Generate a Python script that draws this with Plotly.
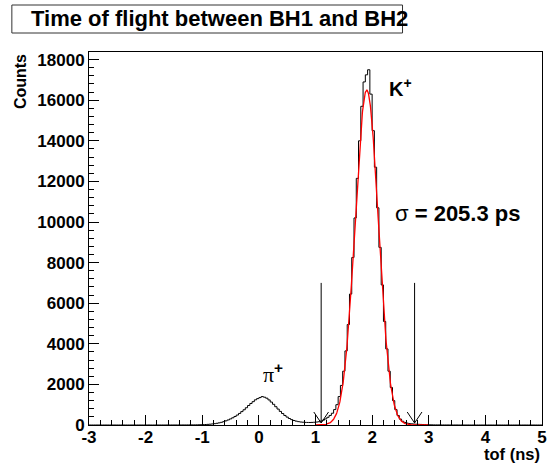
import numpy as np
import plotly.graph_objects as go

# ---- histogram: time of flight BH1 -> BH2, 200 bins of 0.04 ns on [-3, 5] ----
tof_min, tof_max, n_bins = -3.0, 5.0, 200
tof_counts = [
    0, 0, 0, 0, 0, 0, 0, 0, 0, 0,                                   # -3.0 .. -2.6
    0, 0, 0, 0, 0, 0, 0, 0, 0, 0,                                   # -2.6 .. -2.2
    0, 0, 0, 0, 0, 0, 1, 0, 0, 1,                                   # -2.2 .. -1.8
    0, 1, 1, 0, 1, 1, 2, 1, 2, 2,                                   # -1.8 .. -1.4
    2, 3, 3, 4, 5, 6, 7, 9, 11, 14,                                 # -1.4 .. -1.0
    18, 24, 31, 40, 52, 66, 84, 106, 132, 165,                      # -1.0 .. -0.6
    205, 250, 300, 355, 420, 490, 570, 660, 750, 850,               # -0.6 .. -0.2
    960, 1060, 1150, 1240, 1300, 1350, 1400, 1370, 1320, 1235,      # -0.2 .. 0.2
    1130, 1020, 900, 785, 670, 565, 470, 390, 320, 265,             # 0.2 .. 0.6
    220, 190, 165, 148, 138, 130, 126, 124, 128, 135,               # 0.6 .. 1.0
    145, 160, 190, 240, 300, 380, 470, 580, 760, 1000,              # 1.0 .. 1.4
    1400, 1950, 2650, 3650, 4950, 6450, 8250, 10200, 12150, 14000,  # 1.4 .. 1.8
    15700, 16900, 17250, 17500, 16300, 14500, 12700, 10700, 8750, 6900,  # 1.8 .. 2.2
    5100, 3750, 2650, 1850, 1200, 760, 470, 290, 185, 125,          # 2.2 .. 2.6
    92, 72, 58, 48, 40, 34, 28, 22, 17, 13,                         # 2.6 .. 3.0
    10, 8, 6, 5, 4, 3, 3, 2, 2, 1,                                  # 3.0 .. 3.4
    1, 1, 1, 0, 1, 0, 0, 1, 0, 0,                                   # 3.4 .. 3.8
    0, 0, 0, 0, 0, 0, 0, 0, 0, 0,                                   # 3.8 .. 4.2
    0, 0, 0, 0, 0, 0, 0, 0, 0, 0,                                   # 4.2 .. 4.6
    0, 0, 0, 0, 0, 0, 0, 0, 0, 0,                                   # 4.6 .. 5.0
]

# ---- gaussian fit of the kaon peak ----
fit_amplitude = 16500.0      # counts / bin
fit_mean_ns = 1.905
sigma_ps = 205.3
fit_range_ns = [1.0, 3.0]

# ---- selection window (arrows) ----
cut_positions_ns = [1.10, 2.75]
cut_line_top = 7000.0
cut_tip = 100.0

# ---- axis ticks ----
y_tick_values = [0, 2000, 4000, 6000, 8000, 10000, 12000, 14000, 16000, 18000]
y_tick_labels = ["0", "2000", "4000", "6000", "8000", "10000", "12000",
                 "14000", "16000", "18000"]
x_tick_values = [-3, -2, -1, 0, 1, 2, 3, 4, 5]
x_tick_labels = ["-3", "-2", "-1", "0", "1", "2", "3", "4", "5"]

edges = np.linspace(tof_min, tof_max, n_bins + 1)
counts = np.array(tof_counts, dtype=float)
y_max = 1.05 * counts.max()

SANS = "Liberation Sans"
SERIF = "Liberation Serif"

fig = go.Figure()

# histogram outline (step)
fig.add_trace(go.Scatter(
    x=edges, y=np.append(counts, counts[-1]),
    mode="lines", line=dict(color="black", width=1, shape="hv"),
    hoverinfo="skip", showlegend=False,
))

# fitted gaussian
sigma_ns = sigma_ps / 1000.0
xf = np.linspace(fit_range_ns[0], fit_range_ns[1], 400)
yf = fit_amplitude * np.exp(-0.5 * ((xf - fit_mean_ns) / sigma_ns) ** 2)
fig.add_trace(go.Scatter(
    x=xf, y=yf, mode="lines", line=dict(color="red", width=1.3),
    hoverinfo="skip", showlegend=False,
))

# cut arrows: vertical line with an open V head at the bottom
head_dx, head_dy = 0.13, 540.0
for xc in cut_positions_ns:
    fig.add_trace(go.Scatter(
        x=[xc, xc, None, xc - head_dx, xc, xc + head_dx],
        y=[cut_line_top, cut_tip, None, cut_tip + head_dy, cut_tip, cut_tip + head_dy],
        mode="lines", line=dict(color="black", width=1),
        hoverinfo="skip", showlegend=False,
    ))

tick_font = dict(family=SANS, size=17, color="black", weight="bold")

fig.update_xaxes(
    range=[tof_min, tof_max], tickmode="array", tickvals=x_tick_values,
    ticktext=x_tick_labels, ticklabelstandoff=-3,
    ticks="inside", ticklen=10, tickwidth=1, tickcolor="black",
    minor=dict(dtick=0.2, ticks="inside", ticklen=5, tickcolor="black"),
    showgrid=False, zeroline=False, showline=True, linecolor="black",
    linewidth=1, mirror=True, tickfont=tick_font,
)
fig.update_yaxes(
    range=[0, y_max], tickmode="array", tickvals=y_tick_values,
    ticktext=y_tick_labels,
    ticks="inside", ticklen=10, tickwidth=1, tickcolor="black",
    minor=dict(dtick=400, ticks="inside", ticklen=5, tickcolor="black"),
    showgrid=False, zeroline=False, showline=True, linecolor="black",
    linewidth=1, mirror=True, tickfont=tick_font,
)

plus_sup = ('<sup><span style="font-family:Liberation Sans;font-weight:bold">'
            '+</span></sup>')

annotations = [
    # title text (box drawn as a shape)
    dict(text="Time of flight between BH1 and BH2", xref="paper", yref="paper",
         x=-0.1332, y=1.0885, xanchor="left", yanchor="middle", showarrow=False,
         font=dict(family=SANS, size=22, color="black", weight="bold")),
    # axis titles
    dict(text="Counts", xref="paper", yref="paper", x=-0.151, y=1.0,
         xanchor="center", yanchor="top", textangle=-90, showarrow=False,
         font=dict(family=SANS, size=16, color="black", weight="bold")),
    dict(text="tof (ns)", xref="paper", yref="paper", x=1.0, y=-0.077,
         xanchor="right", yanchor="middle", showarrow=False,
         font=dict(family=SANS, size=16.5, color="black", weight="bold")),
    # peak labels
    dict(text="K<sup>+</sup>", xref="paper", yref="paper", x=0.657, y=0.905,
         xanchor="left", yanchor="middle", showarrow=False,
         font=dict(family=SANS, size=20, color="black", weight="bold")),
    dict(text=f"σ<b> = {sigma_ps:.1f} ps</b>", xref="paper", yref="paper",
         x=0.670, y=0.567, xanchor="left", yanchor="middle", showarrow=False,
         font=dict(family=SANS, size=22, color="black")),
    dict(text="π" + plus_sup, xref="paper", yref="paper", x=0.380, y=0.14,
         xanchor="left", yanchor="middle", showarrow=False,
         font=dict(family=SERIF, size=22, color="black")),
]

shapes = [
    dict(type="rect", xref="paper", yref="paper", x0=-0.1703, x1=0.6921,
         y0=1.0509, y1=1.126, line=dict(color="#333333", width=1),
         fillcolor="white", layer="below"),
]

fig.update_layout(
    width=554, height=463,
    margin=dict(l=89, r=7, t=52, b=38, pad=0),
    paper_bgcolor="white", plot_bgcolor="white",
    annotations=annotations, shapes=shapes, showlegend=False,
)

fig.write_html("out.html")
